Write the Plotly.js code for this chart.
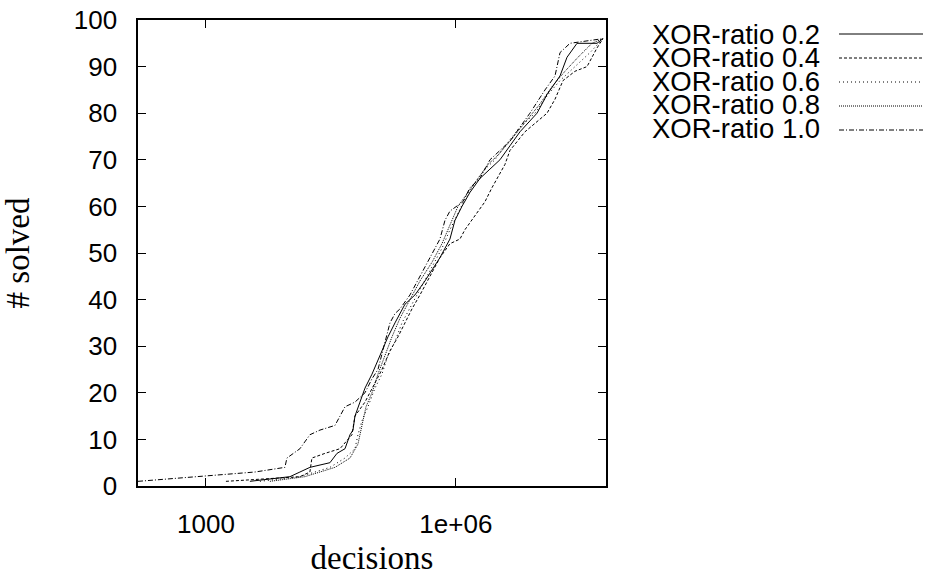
<!DOCTYPE html>
<html>
<head>
<meta charset="utf-8">
<script src="https://cdn.plot.ly/plotly-3.0.1.min.js"></script>
<style>html,body{margin:0;padding:0;background:#fff;}#chart{width:927px;height:577px;}</style>
</head>
<body>
<div id="chart"></div>
<script>
// ---- data (decisions, # solved) ----
const seriesNames = ["XOR-ratio 0.2", "XOR-ratio 0.4", "XOR-ratio 0.6", "XOR-ratio 0.8", "XOR-ratio 1.0"];

const dec02 = [3373, 10186, 13428, 17701, 30800, 37400, 46700, 53600, 58200, 61500, 70600, 81100, 98400, 122700, 153100, 185800, 244900, 322800, 425600, 644200, 849200, 975000, 1183000, 1476000, 1945000, 2564000, 3381000, 4457000, 5875000, 9419000, 12420000, 17780000, 21580000, 28440000, 49430000, 58340000];
const sol02 = [1, 2, 3, 4, 5, 7, 8, 11, 12, 15, 18, 21, 24, 28, 32, 35, 39, 41, 44, 49, 53, 57, 60, 63, 66, 68, 70, 73, 76, 80, 84, 88, 92, 95, 95, 96];

const dec04 = [1738, 13428, 17701, 18707, 26840, 40600, 56600, 61500, 81100, 106900, 129700, 161800, 201800, 244900, 297200, 370700, 488700, 644200, 849200, 1119000, 1285000, 1694000, 2234000, 2710000, 3381000, 3882000, 4457000, 6745000, 12420000, 15490000, 19320000, 26920000, 37500000, 49430000, 58340000];
const sol04 = [1, 2, 3, 6, 7, 8, 11, 15, 18, 22, 25, 29, 32, 35, 38, 41, 45, 49, 52, 53, 55, 58, 61, 64, 67, 69, 72, 76, 80, 83, 87, 89, 90, 94, 96];

const dec06 = [4446, 13428, 30800, 46700, 61500, 66800, 74600, 88100, 106900, 129700, 153100, 185800, 225400, 297200, 391700, 516400, 680800, 849200, 1030000, 1321000, 1694000, 2234000, 2944000, 3882000, 5875000, 8913000, 12760000, 17780000, 26920000, 40740000, 58340000];
const sol06 = [1, 2, 4, 6, 8, 11, 14, 17, 21, 24, 28, 31, 35, 39, 43, 47, 51, 55, 58, 62, 65, 68, 70, 73, 77, 80, 84, 87, 90, 93, 96];

const dec08 = [5861, 15417, 35400, 53600, 66800, 74600, 83400, 98400, 116100, 140900, 171000, 213300, 281200, 370700, 516400, 680800, 849200, 1059000, 1396000, 1841000, 2427000, 3199000, 4457000, 6745000, 10230000, 14660000, 20420000, 29240000, 43050000, 58340000];
const sol08 = [1, 2, 4, 6, 9, 13, 17, 20, 24, 28, 32, 36, 40, 44, 48, 52, 56, 60, 63, 66, 69, 71, 74, 78, 82, 86, 89, 92, 95, 96];

const dec10 = [153, 3873, 8872, 9376, 13428, 17701, 23373, 35400, 46700, 61500, 81100, 98400, 116100, 133300, 161800, 185800, 213300, 281200, 370700, 488700, 644200, 739600, 849200, 1216000, 1476000, 1945000, 2564000, 3381000, 4457000, 5875000, 7745000, 11750000, 15490000, 17780000, 23440000, 58340000];
const sol10 = [1, 3, 4, 6, 8, 11, 12, 13, 17, 18, 20, 23, 25, 29, 35, 37, 38, 41, 45, 49, 53, 57, 59, 61, 64, 66, 70, 72, 74, 77, 80, 85, 88, 93, 95, 96];

const xTickVals = [1000, 1000000];
const xTickLabels = ["1000", "1e+06"];
const yTickVals = [0, 10, 20, 30, 40, 50, 60, 70, 80, 90, 100];

// ---- styling ----
const dashes = ["solid", "3px,2px", "1px,3px", "1px,1px", "5px,2px,1px,2px"];
const xs = [dec02, dec04, dec06, dec08, dec10];
const ys = [sol02, sol04, sol06, sol08, sol10];

const traces = xs.map((x, i) => ({
  x: x, y: ys[i], type: "scatter", mode: "lines", name: seriesNames[i],
  line: {color: "#000", width: 1, dash: dashes[i]}, showlegend: false
}));

// Legend: text on the left, line sample on the right (gnuplot style)
const annotations = [];
const shapes = [];
seriesNames.forEach((n, i) => {
  const pyText = 34 + 23.5 * i;
  const pyLine = 34 + 24 * i;
  annotations.push({xref: "paper", yref: "paper", x: (822 - 138) / 468, y: (486 - pyText) / 466,
    xanchor: "right", yanchor: "middle", showarrow: false, text: n,
    font: {family: "Liberation Sans, Arial, sans-serif", size: 27.5, color: "#000"}});
  shapes.push({type: "line", xref: "paper", yref: "paper",
    x0: (839 - 138) / 468, x1: (923 - 138) / 468, y0: (486 - pyLine) / 466, y1: (486 - pyLine) / 466,
    line: {color: "#000", width: 1, dash: dashes[i]}});
});

const tickFont = {family: "Liberation Sans, Arial, sans-serif", size: 26, color: "#000"};
const titleFont = {family: "Liberation Serif, Times New Roman, serif", size: 33, color: "#000"};

const layout = {
  width: 927, height: 577,
  margin: {l: 138, r: 321, t: 20, b: 91},
  paper_bgcolor: "#fff", plot_bgcolor: "#fff",
  showlegend: false,
  xaxis: {
    type: "log", range: [Math.log10(153), Math.log10(63390000)],
    tickvals: xTickVals, ticktext: xTickLabels,
    ticks: "inside", ticklen: 8, tickwidth: 1, tickcolor: "#000",
    showline: true, mirror: "ticks", linecolor: "#000", linewidth: 1.6,
    showgrid: false, zeroline: false, tickfont: tickFont, ticklabelstandoff: 14,
    title: {text: "decisions", font: titleFont, standoff: 8}, automargin: false
  },
  yaxis: {
    range: [0, 100], tickvals: yTickVals,
    ticks: "inside", ticklen: 8, tickwidth: 1, tickcolor: "#000",
    showline: true, mirror: "ticks", linecolor: "#000", linewidth: 1.6,
    showgrid: false, zeroline: false, tickfont: tickFont, ticklabelstandoff: 14,
    title: {text: "# solved", font: titleFont, standoff: 34}, automargin: false
  },
  annotations: annotations,
  shapes: shapes
};

Plotly.newPlot("chart", traces, layout, {displayModeBar: false, staticPlot: true});
</script>
</body>
</html>
